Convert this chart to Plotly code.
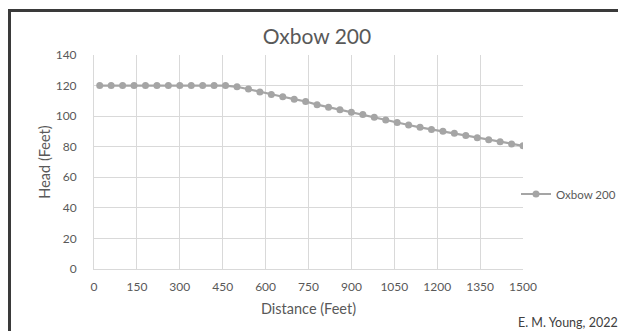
import plotly.graph_objects as go

distance = [20, 60, 100, 140, 180, 220, 260, 300, 340, 380, 420, 460,
            500, 540, 580, 620, 660, 700, 740, 780, 820, 860, 900, 940,
            980, 1020, 1060, 1100, 1140, 1180, 1220, 1260, 1300, 1340,
            1380, 1420, 1460, 1500]
head = [120, 120, 120, 120, 120, 120, 120, 120, 120, 120, 120, 120,
        119.2, 117.7, 115.8, 114.2, 112.7, 111.1, 109.6, 107.5, 105.8,
        104.2, 102.6, 101.1, 99.3, 97.5, 95.9, 94.2, 92.7, 91.3, 90.1,
        88.8, 87.3, 85.9, 84.5, 83.2, 81.8, 80.6]
x_ticks = [0, 150, 300, 450, 600, 750, 900, 1050, 1200, 1350, 1500]
y_ticks = [0, 20, 40, 60, 80, 100, 120, 140]
series_name = "Oxbow 200"

# page body has an 8px margin; work in reference pixel coords minus 8
O = 8
W, H = 626 - O, 331 - O
L, R, T, B = 94 - O, 523 - O, 55 - O, 269 - O
pw, ph = R - L, B - T

def px(x):
    return (x - O - L) / pw

def py(y):
    return (B - (y - O)) / ph

font = "Lato, Open Sans, sans-serif"
tick_col = "#595959"

fig = go.Figure()
fig.add_trace(go.Scatter(
    x=distance, y=head, name=series_name, mode="lines+markers",
    line=dict(color="#a5a5a5", width=2.2),
    marker=dict(color="#a5a5a5", size=7),
))

fig.update_layout(
    width=W, height=H,
    margin=dict(l=L, r=W - R, t=T, b=H - B, autoexpand=False),
    paper_bgcolor="white", plot_bgcolor="white",
    font=dict(family=font, color=tick_col, size=12),
    title=dict(text="Oxbow 200", xref="paper", x=px(317), xanchor="center",
               y=1 - (37 - O) / H, yanchor="middle",
               font=dict(size=21, color="#595959", family=font)),
    xaxis=dict(range=[0, 1500], tickvals=x_ticks, showgrid=True,
               gridcolor="#d9d9d9", gridwidth=1, zeroline=False,
               showline=True, linecolor="#d9d9d9", ticks="",
               ticklabelstandoff=7,
               tickfont=dict(size=12, color=tick_col),
               title=dict(text="Distance (Feet)", standoff=10,
                          font=dict(size=14.5, color=tick_col))),
    yaxis=dict(range=[0, 140], tickvals=y_ticks, showgrid=True,
               gridcolor="#d9d9d9", gridwidth=1, zeroline=False,
               showline=True, linecolor="#d9d9d9", ticks="",
               ticklabelstandoff=14,
               tickfont=dict(size=12, color=tick_col),
               title=dict(text="Head (Feet)", standoff=1,
                          font=dict(size=14.5, color=tick_col))),
    showlegend=True,
    legend=dict(x=px(516), xanchor="left", y=py(194), yanchor="middle",
                bgcolor="rgba(0,0,0,0)", font=dict(size=11.5, color=tick_col)),
    shapes=[dict(type="rect", xref="paper", yref="paper",
                 x0=px(9.5), x1=px(660), y0=py(10.5), y1=py(360),
                 line=dict(color="#3a3a3a", width=3), fillcolor="rgba(0,0,0,0)",
                 layer="above")],
    annotations=[dict(text="E. M. Young, 2022", xref="paper", yref="paper",
                      x=px(620), y=py(322), xanchor="right", yanchor="middle",
                      showarrow=False, font=dict(size=12.5, color="#404040"))],
)

fig.write_html("out.html")
